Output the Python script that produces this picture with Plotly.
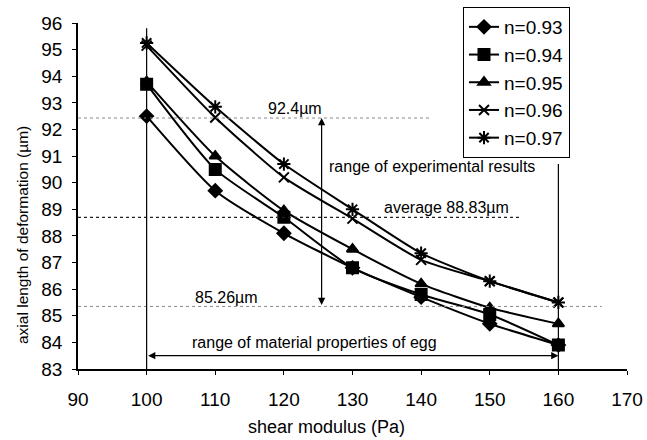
import plotly.graph_objects as go

shear = [100, 110, 120, 130, 140, 150, 160]
n093 = [92.5, 89.7, 88.1, 86.8, 85.7, 84.7, 83.9]
n094 = [93.7, 90.5, 88.7, 86.8, 85.8, 85.05, 83.9]
n095 = [93.8, 91.0, 88.95, 87.5, 86.2, 85.3, 84.7]
n096 = [95.15, 92.45, 90.2, 88.65, 87.1, 86.3, 85.5]
n097 = [95.25, 92.85, 90.7, 89.0, 87.35, 86.3, 85.5]
names = ["n=0.93", "n=0.94", "n=0.95", "n=0.96", "n=0.97"]
series = [n093, n094, n095, n096, n097]
symbols = ["diamond", "square", "triangle-up", "x-thin-open", "asterisk-open"]
sizes = [10, 11, 10, 10, 11]

x_ticks = [90, 100, 110, 120, 130, 140, 150, 160, 170]
y_ticks = list(range(83, 97))

exp_max, exp_avg, exp_min = 92.43, 88.7, 85.35

FONT = "Liberation Sans, Arial, sans-serif"

# plot area in pixels
L, R, T, B = 78, 627, 23, 369
PW, PH = R - L, B - T

fig = go.Figure()
for name, ys, sym, sz in zip(names, series, symbols, sizes):
    fig.add_trace(go.Scatter(
        x=shear, y=ys, name=name, mode="lines+markers",
        line=dict(color="black", width=2, shape="spline", smoothing=0.6),
        marker=dict(symbol=sym, size=sz, color="black",
                    line=dict(color="black", width=2)),
        legendgroup=name,
    ))

shapes = [
    dict(type="line", xref="x", yref="y", x0=90, x1=141.3, y0=exp_max, y1=exp_max,
         line=dict(color="#888888", width=1, dash="dot")),
    dict(type="line", xref="x", yref="y", x0=90, x1=154.4, y0=exp_avg, y1=exp_avg,
         line=dict(color="#222222", width=1.3, dash="dot")),
    dict(type="line", xref="x", yref="y", x0=90, x1=166.3, y0=exp_min, y1=exp_min,
         line=dict(color="#888888", width=1, dash="dot")),
    dict(type="line", xref="x", yref="y", x0=100, x1=100, y0=95.8, y1=83,
         line=dict(color="black", width=1.2)),
    dict(type="line", xref="x", yref="y", x0=160, x1=160, y0=90.7, y1=83,
         line=dict(color="black", width=1.2)),
]

ann_font = dict(family=FONT, size=16, color="black")
annotations = [
    dict(x=121.6, y=92.8, xref="x", yref="y", text="92.4µm", showarrow=False, font=ann_font),
    dict(x=141.6, y=90.6, xref="x", yref="y", text="range of experimental results", showarrow=False, font=ann_font),
    dict(x=143.7, y=89.06, xref="x", yref="y", text="average 88.83µm", showarrow=False, font=ann_font),
    dict(x=111.6, y=85.7, xref="x", yref="y", text="85.26µm", showarrow=False, font=ann_font),
    dict(x=124.5, y=84.0, xref="x", yref="y", text="range of material properties of egg", showarrow=False, font=ann_font),
    # vertical double arrow
    dict(x=125.5, y=exp_max, ax=125.5, ay=exp_min, xref="x", yref="y", axref="x", ayref="y",
         text="", showarrow=True, arrowhead=2, arrowside="end+start", arrowsize=1.2,
         arrowwidth=1.2, arrowcolor="black"),
    # horizontal double arrow
    dict(x=160, y=83.5, ax=100, ay=83.5, xref="x", yref="y", axref="x", ayref="y",
         text="", showarrow=True, arrowhead=2, arrowside="end+start", arrowsize=1.2,
         arrowwidth=1.2, arrowcolor="black"),
    # axis titles
    dict(x=(326 - L) / PW, y=(B - 427) / PH, xref="paper", yref="paper", text="shear modulus (Pa)",
         xanchor="center", yanchor="middle",
         showarrow=False, font=dict(family=FONT, size=18, color="black")),
    dict(x=(22 - L) / PW, y=(B - 235) / PH, xref="paper", yref="paper", text="axial length of deformation (µm)",
         xanchor="center", yanchor="middle",
         textangle=-90, showarrow=False, font=dict(family=FONT, size=15.5, color="black")),
]

fig.update_layout(
    width=647, height=440,
    margin=dict(l=L, r=647 - R, t=T, b=440 - B, autoexpand=False),
    paper_bgcolor="white", plot_bgcolor="white",
    font=dict(family=FONT, size=19, color="black"),
    shapes=shapes, annotations=annotations,
    showlegend=True,
    legend=dict(x=463 / 647, y=1 - 7 / 440, xref="container", yref="container",
                xanchor="left", yanchor="top",
                bordercolor="black", borderwidth=1, bgcolor="white",
                font=dict(family=FONT, size=19), tracegroupgap=0),
    xaxis=dict(range=[90, 170], tickvals=x_ticks, ticktext=[str(v) for v in x_ticks],
               showgrid=False, zeroline=False, showline=True, linecolor="black", linewidth=1.5,
               ticks="outside", ticklen=4, tickcolor="black", ticklabelstandoff=8, automargin=False),
    yaxis=dict(range=[83, 96], tickvals=y_ticks, ticktext=[str(v) for v in y_ticks],
               showgrid=False, zeroline=False, showline=True, linecolor="black", linewidth=1.5,
               ticks="outside", ticklen=4, tickcolor="black", ticklabelstandoff=6, automargin=False),
)

fig.write_html("out.html")
